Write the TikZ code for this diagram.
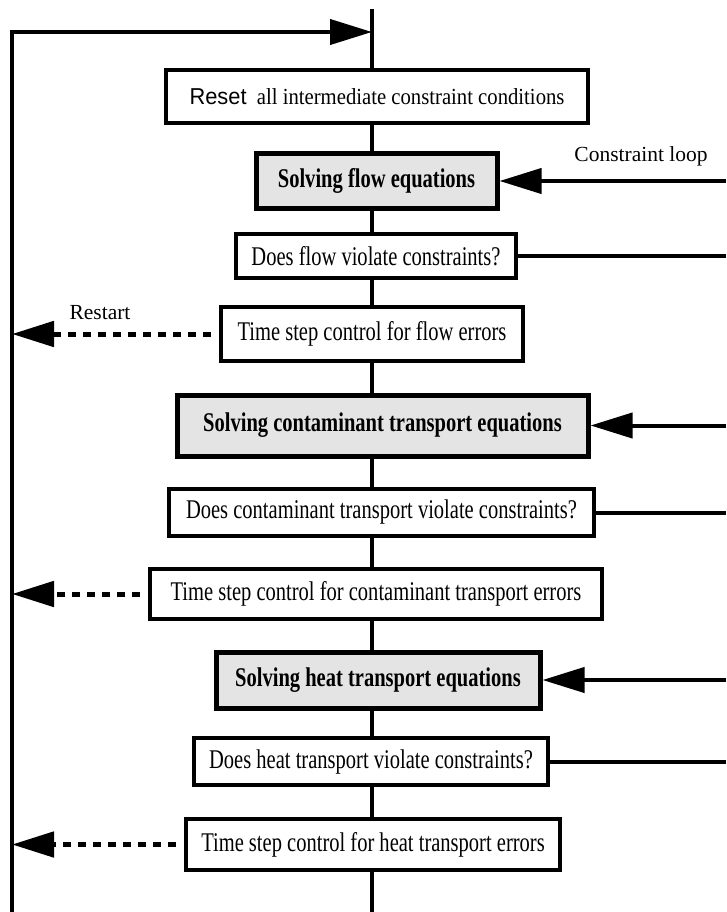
\documentclass[tikz,border=0pt]{standalone}
\usepackage{fontspec}
\setmainfont{Liberation Serif}
\newfontfamily\condserif{Liberation Serif}[FakeStretch=0.76]
\newfontfamily\resetserif{Liberation Serif}[FakeStretch=0.9]
\newfontfamily\resetsans{Liberation Sans}[FakeStretch=0.95]
\usetikzlibrary{arrows.meta}
\definecolor{boxgray}{HTML}{E4E4E4}
\tikzset{
  box/.style={draw, line width=4.5pt, fill=white, inner sep=0pt, align=center,
    font=\condserif\fontsize{27}{30}\selectfont},
  solvebox/.style={box, fill=boxgray, line width=5pt,
    font=\condserif\bfseries\fontsize{27}{30}\selectfont},
  conn/.style={line width=4pt},
  arr/.style={conn, -{Triangle[length=42pt,width=25pt]}},
  restartarr/.style={line width=5pt, dash pattern=on 8pt off 7pt, -{Triangle[length=42pt,width=25pt]}},
  lbl/.style={font=\fontsize{21.5}{24}\selectfont, inner sep=0pt}
}
\begin{document}
\begin{tikzpicture}[x=1pt,y=-1pt]
\useasboundingbox (0,0) rectangle (726,912);
\coordinate (top) at (372,9);
\coordinate (bot) at (372,912);
\coordinate (L) at (12,912);
\coordinate (Lcorner) at (12,32);
\coordinate (loopend) at (372,32);
\coordinate (R) at (726,0);

\node[box, minimum width=422pt, minimum height=53pt] (reset) at (377,96.5)
  {{\fontsize{23}{26}\selectfont\resetsans Reset}\ \ {\fontsize{23}{26}\selectfont\resetserif all intermediate constraint conditions}};
\node[solvebox, minimum width=241pt, minimum height=54pt] (flow) at (376.5,181) {Solving flow equations};
\node[box, minimum width=280pt, minimum height=44pt] (dflow) at (376,256) {Does flow violate constraints?};
\node[box, minimum width=302pt, minimum height=54pt] (tflow) at (372,334) {Time step control for flow errors};
\node[solvebox, minimum width=411pt, minimum height=61pt] (cont) at (382.5,425.5) {Solving contaminant transport equations};
\node[box, minimum width=425pt, minimum height=47pt] (dcont) at (381.5,512.5) {Does contaminant transport violate constraints?};
\node[box, minimum width=452pt, minimum height=50pt] (tcont) at (376,594) {Time step control for contaminant transport errors};
\node[solvebox, minimum width=324pt, minimum height=56pt] (heat) at (378,680) {Solving heat transport equations};
\node[box, minimum width=354pt, minimum height=47pt] (dheat) at (371,761.5) {Does heat transport violate constraints?};
\node[box, minimum width=374pt, minimum height=51pt] (theat) at (373,844.5) {Time step control for heat transport errors};

% spine segments
\draw[conn] (top) -- (top |- reset.north);
\foreach \a/\b in {reset/flow, flow/dflow, dflow/tflow, tflow/cont, cont/dcont, dcont/tcont, tcont/heat, heat/dheat, dheat/theat}
  \draw[conn] (top |- \a.south) -- (top |- \b.north);
\draw[conn] (top |- theat.south) -- (bot);

% outer loop
\draw[arr] (L) -- (Lcorner) -- (loopend);

% constraint loop arrows from the right
\draw[arr] (flow.east -| R) -- (flow.east);
\draw[arr] (cont.east -| R) -- (cont.east);
\draw[arr] (heat.east -| R) -- (heat.east);
\draw[conn] (dflow.east) -- (dflow.east -| R);
\draw[conn] (dcont.east) -- (dcont.east -| R);
\draw[conn] (dheat.east) -- (dheat.east -| R);

% restart arrows
\draw[restartarr] (tflow.west) ++(-8,0) coordinate (tf) (tf) -- (tf -| L);
\draw[restartarr] (tcont.west) ++(-8,0) coordinate (tc) (tc) -- (tc -| L);
\draw[restartarr] (theat.west) ++(-8,0) coordinate (th) (th) -- (th -| L);

\node[lbl] (cl) at (641,156) {Constraint loop};
\node[lbl] (rs) at (100,313) {Restart};
\end{tikzpicture}
\end{document}
